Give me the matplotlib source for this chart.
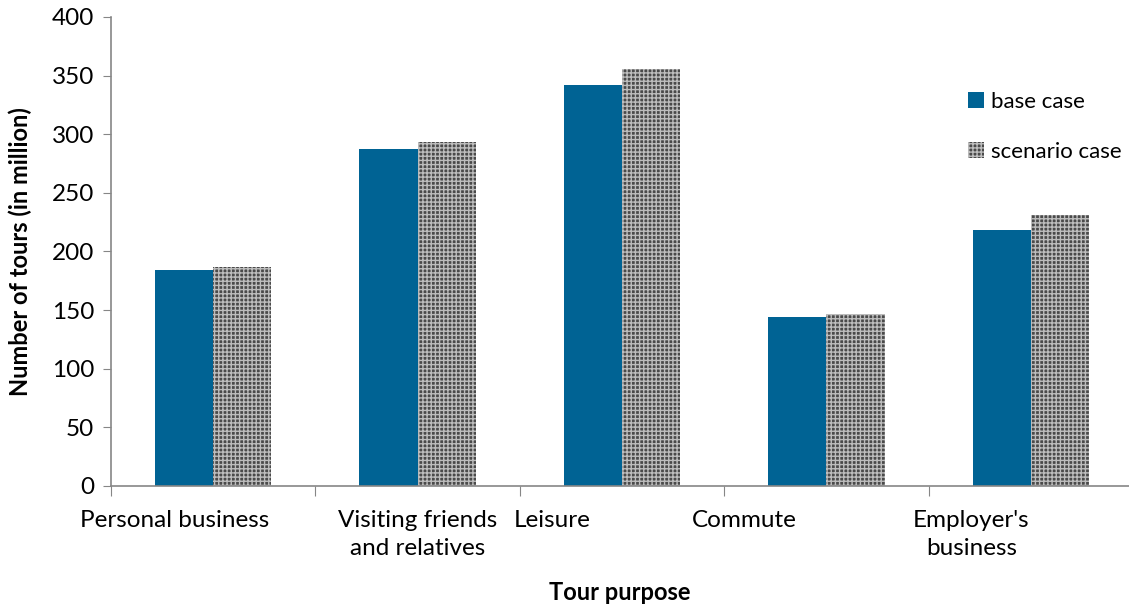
import numpy as np
import matplotlib
matplotlib.use("Agg")
import matplotlib.pyplot as plt

categories = ["Personal business", "Visiting friends\nand relatives", "Leisure",
              "Commute", "Employer's\nbusiness"]
base_case = [184, 287, 342, 144, 218]
scenario_case = [187, 293, 356, 147, 231]
# where the category labels sit (in category units, from the picture)
label_pos = [0.31, 1.5, 2.16, 3.1, 4.21]

plt.rcParams["font.family"] = ["Lato", "DejaVu Sans"]
plt.rcParams["hatch.linewidth"] = 1.0
plt.rcParams["hatch.color"] = "#bdbdbd"

fig = plt.figure(figsize=(11.29, 6.07), dpi=100)
ax = fig.add_axes([111 / 1129, 1 - 486 / 607, 1022 / 1129, 469 / 607])

x = np.arange(len(categories)) + 0.5
w = 0.285
ax.bar(x - w / 2, base_case, w, color="#006394", label="base case")
ax.bar(x + w / 2, scenario_case, w, color="#4a4a4a", hatch="++++",
       edgecolor="#bdbdbd", linewidth=0, label="scenario case")

ax.set_xlim(0, 5)
ax.set_ylim(0, 400)
ax.set_yticks(np.arange(0, 401, 50))
ax.tick_params(axis="y", labelsize=17.5, length=6, color="#868686", pad=6)

ax.set_xticks(np.arange(0, 5))
ax.set_xticklabels([])
ax.tick_params(axis="x", which="major", length=7, color="#868686")
ax.set_xticks(label_pos, minor=True)
ax.set_xticklabels(categories, minor=True, fontsize=17.5, linespacing=1.45)
ax.tick_params(axis="x", which="minor", length=0, pad=17)

for s in ["top", "right"]:
    ax.spines[s].set_visible(False)
for s in ["left", "bottom"]:
    ax.spines[s].set_color("#868686")
    ax.spines[s].set_linewidth(1.2)

ax.set_ylabel("Number of tours (in million)", fontsize=17, fontweight="bold",
              labelpad=14)
fig.text(620 / 1129, 1 - 592 / 607, "Tour purpose", fontsize=17,
         fontweight="bold", ha="center", va="center")

fig.legend(loc="upper left", bbox_to_anchor=(948 / 1129, 1 - 72 / 607),
           frameon=False, fontsize=16, handlelength=0.7, handleheight=0.7,
           handletextpad=0.35, labelspacing=1.35)

plt.savefig("out.png", dpi=100)
